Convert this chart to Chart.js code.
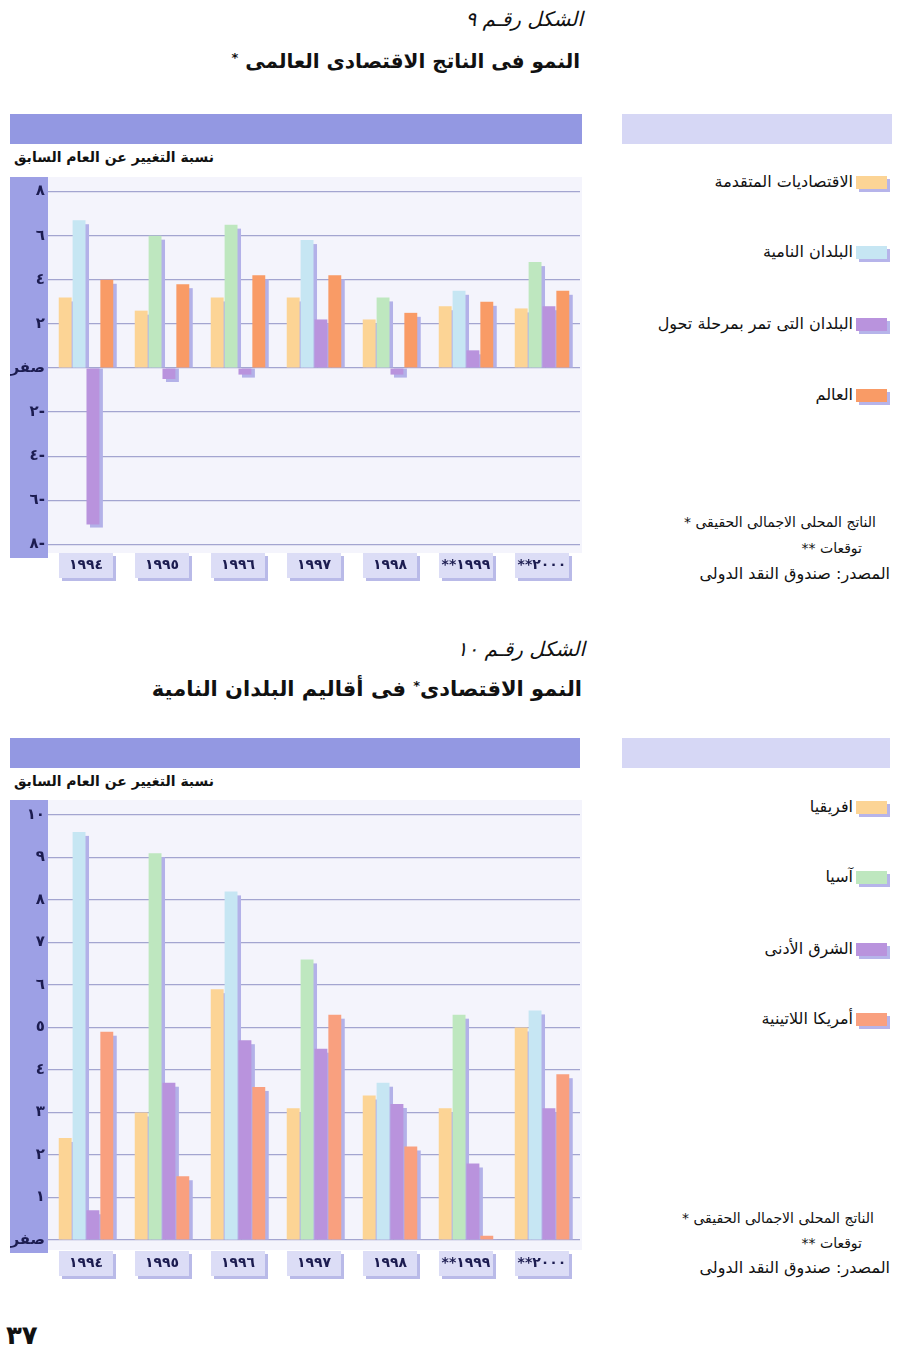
<!DOCTYPE html>
<html><head><meta charset="utf-8">
<script src="https://cdn.jsdelivr.net/npm/chart.js@4/dist/chart.umd.min.js"></script>
<style>
html,body{margin:0;padding:0;background:#fff;}
body{width:900px;height:1348px;position:relative;overflow:hidden;font-family:"DejaVu Sans",sans-serif;color:#111;}
.t{position:absolute;white-space:nowrap;direction:rtl;line-height:1;}
.band{position:absolute;height:30px;}
canvas{position:absolute;}
.sw{position:absolute;width:31px;height:13px;}
.sw:before{content:"";position:absolute;left:3px;top:3px;width:31px;height:13px;background:#B6B4EA;}
.sw span{position:absolute;left:0;top:0;width:31px;height:13px;}
</style></head><body>

<div class="t" style="right:317px;top:9px;font-size:20px;font-style:italic;">الشكل رقـم ٩</div>
<div class="t" style="right:320px;top:51px;font-size:20px;font-weight:bold;">النمو فى الناتج الاقتصادى العالمى <span style="font-size:13px;vertical-align:6px;">*</span></div>
<div class="band" style="left:10px;width:572px;top:114px;background:#9398E2;"></div>
<div class="band" style="left:622px;width:270px;top:114px;background:#D6D7F5;"></div>
<div class="t" style="left:14px;top:150px;font-size:14px;font-weight:bold;">نسبة التغيير عن العام السابق</div>
<canvas id="c1" width="578" height="425" style="left:10px;top:165px;"></canvas>
<div id="leg1"></div>
<div class="t" style="right:24px;top:515px;font-size:14px;">الناتج المحلى الاجمالى الحقيقى *</div>
<div class="t" style="right:38px;top:541px;font-size:14px;">توقعات **</div>
<div class="t" style="right:10px;top:566px;font-size:16px;">المصدر: صندوق النقد الدولى</div>

<div class="t" style="right:315px;top:639px;font-size:20px;font-style:italic;">الشكل رقـم ١٠</div>
<div class="t" style="right:318px;top:679px;font-size:21px;font-weight:bold;">النمو الاقتصادى<span style="font-size:13px;vertical-align:6px;">*</span> فى أقاليم البلدان النامية</div>
<div class="band" style="left:10px;width:570px;top:738px;background:#9398E2;"></div>
<div class="band" style="left:622px;width:268px;top:738px;background:#D6D7F5;"></div>
<div class="t" style="left:14px;top:774px;font-size:14px;font-weight:bold;">نسبة التغيير عن العام السابق</div>
<canvas id="c2" width="578" height="500" style="left:10px;top:788px;"></canvas>
<div id="leg2"></div>
<div class="t" style="right:26px;top:1211px;font-size:14px;">الناتج المحلى الاجمالى الحقيقى *</div>
<div class="t" style="right:38px;top:1236px;font-size:14px;">توقعات **</div>
<div class="t" style="right:10px;top:1260px;font-size:16px;">المصدر: صندوق النقد الدولى</div>

<div class="t" style="left:6px;top:1322px;font-size:26px;font-weight:bold;direction:ltr;">٣٧</div>

<script>
// ---------- DATA ----------
const years = ['١٩٩٤','١٩٩٥','١٩٩٦','١٩٩٧','١٩٩٨','**١٩٩٩','**٢٠٠٠'];

// Figure 9
const seriesNames9 = ['الاقتصاديات المتقدمة','البلدان النامية','البلدان التى تمر بمرحلة تحول','العالم'];
const advanced   = [3.2, 2.6, 3.2, 3.2, 2.2, 2.8, 2.7];
const developing = [6.7, 6.0, 6.5, 5.8, 3.2, 3.5, 4.8];
const transition = [-7.1, -0.5, -0.3, 2.2, -0.3, 0.8, 2.8];
const world      = [4.0, 3.8, 4.2, 4.2, 2.5, 3.0, 3.5];
const yTicks9 = [8, 6, 4, 2, 0, -2, -4, -6, -8];
const yTickLabels9 = ['٨','٦','٤','٢','صفر','٢-','٤-','٦-','٨-'];

// Figure 10
const seriesNames10 = ['افريقيا','آسيا','الشرق الأدنى','أمريكا اللاتينية'];
const africa       = [2.4, 3.0, 5.9, 3.1, 3.4, 3.1, 5.0];
const asia         = [9.6, 9.1, 8.2, 6.6, 3.7, 5.3, 5.4];
const middleEast   = [0.7, 3.7, 4.7, 4.5, 3.2, 1.8, 3.1];
const latinAmerica = [4.9, 1.5, 3.6, 5.3, 2.2, 0.1, 3.9];
const yTicks10 = [10, 9, 8, 7, 6, 5, 4, 3, 2, 1, 0];
const yTickLabels10 = ['١٠','٩','٨','٧','٦','٥','٤','٣','٢','١','صفر'];

// ---------- STYLE ----------
const BLUE = '#C6E6F3', GREEN = '#BEE7BF';
const colors9 = ['#FCD495', BLUE, '#B993DD', '#F99B66'];
const second9 = [BLUE, GREEN, GREEN, BLUE, GREEN, BLUE, GREEN];
const colors10 = ['#FCD495', GREEN, '#B993DD', '#F9A07F'];
const second10 = [BLUE, GREEN, BLUE, GREEN, BLUE, GREEN, BLUE];
const TICK = '#1c1c50';

const shadowPlugin = {
  id: 'barShadow',
  beforeDatasetsDraw(chart) {
    const ctx = chart.ctx;
    ctx.save();
    ctx.fillStyle = '#B3B1E8';
    chart.data.datasets.forEach((ds, i) => {
      chart.getDatasetMeta(i).data.forEach(bar => {
        const p = bar.getProps(['x', 'y', 'base', 'width'], true);
        const left = p.x - p.width / 2 + 3.5;
        if (p.y < p.base) ctx.fillRect(left, p.y + 4, p.width, p.base - p.y - 4);
        else ctx.fillRect(left, p.base, p.width, p.y - p.base + 3);
      });
    });
    ctx.restore();
  }
};

const framePlugin = {
  id: 'frame',
  beforeDraw(chart, args, o) {
    const ctx = chart.ctx, a = chart.chartArea;
    ctx.save();
    ctx.fillStyle = '#F4F4FC';
    ctx.fillRect(a.left, a.top, a.right - a.left + 2, a.bottom - a.top);
    ctx.fillStyle = '#9DA0E5';
    ctx.fillRect(0, a.top, a.left, a.bottom - a.top + o.stripExtra);
    const xs = chart.scales.x;
    xs.ticks.forEach((t, i) => {
      const cx = xs.getPixelForTick(i);
      const w = 54, h = 25, top = a.bottom + o.boxTop;
      ctx.fillStyle = '#B9BAE8';
      ctx.fillRect(cx - w / 2 + 3, top + 3, w, h);
      ctx.fillStyle = '#DCDDF6';
      ctx.fillRect(cx - w / 2, top, w, h);
    });
    ctx.restore();
  }
};

function makeChart(id, series, names, colors, second, ticks, tickLabels, yMin, yMax, xH, o) {
  const datasets = series.map((d, i) => ({
    label: names[i],
    data: d,
    backgroundColor: i === 1 ? second : colors[i],
    borderWidth: 0,
    categoryPercentage: 0.73,
    barPercentage: 0.93
  }));
  return new Chart(document.getElementById(id), {
    type: 'bar',
    data: { labels: years, datasets },
    plugins: [framePlugin, shadowPlugin],
    options: {
      responsive: false,
      animation: false,
      layout: { padding: { top: 12, right: 8, left: 0, bottom: 0 } },
      plugins: { legend: { display: false }, tooltip: { enabled: false }, frame: o },
      scales: {
        x: {
          grid: { display: false, drawTicks: false },
          border: { display: false },
          ticks: { color: TICK, font: { family: 'DejaVu Sans', size: 14, weight: 'bold' }, padding: o.xPad, maxRotation: 0 },
          afterFit(s) { s.height = xH; }
        },
        y: {
          min: yMin, max: yMax,
          afterBuildTicks(s) { s.ticks = ticks.map(v => ({ value: v })); },
          grid: { color: '#A3A5D0', lineWidth: 1.2, drawTicks: false },
          border: { display: false },
          ticks: {
            color: TICK, padding: 3,
            font: { family: 'DejaVu Sans', size: 15, weight: 'bold' },
            callback(v) { const k = ticks.indexOf(v); return k >= 0 ? tickLabels[k] : ''; }
          },
          afterFit(s) { s.width = 38; }
        }
      }
    }
  });
}

makeChart('c1', [advanced, developing, transition, world], seriesNames9, colors9, second9,
  yTicks9, yTickLabels9, -8.39, 8.66, 37, { stripExtra: 5, boxTop: 0, xPad: 4 });
makeChart('c2', [africa, asia, middleEast, latinAmerica], seriesNames10, colors10, second10,
  yTicks10, yTickLabels10, -0.235, 10.35, 38, { stripExtra: 3, boxTop: 1, xPad: 5 });

function legend(elId, names, colors, ys) {
  const el = document.getElementById(elId);
  names.forEach((n, i) => {
    const sw = document.createElement('div');
    sw.className = 'sw';
    sw.style.left = '856px';
    sw.style.top = (ys[i] - 7) + 'px';
    sw.innerHTML = '<span style="background:' + colors[i] + '"></span>';
    el.appendChild(sw);
    const t = document.createElement('div');
    t.className = 't';
    t.style.right = (900 - 853) + 'px';
    t.style.top = (ys[i] - 9) + 'px';
    t.style.fontSize = '16px';
    t.textContent = n;
    el.appendChild(t);
  });
}
legend('leg1', seriesNames9, colors9, [183, 253, 325, 396]);
legend('leg2', seriesNames10, colors10, [808, 878, 950, 1020]);
</script>
</body></html>
